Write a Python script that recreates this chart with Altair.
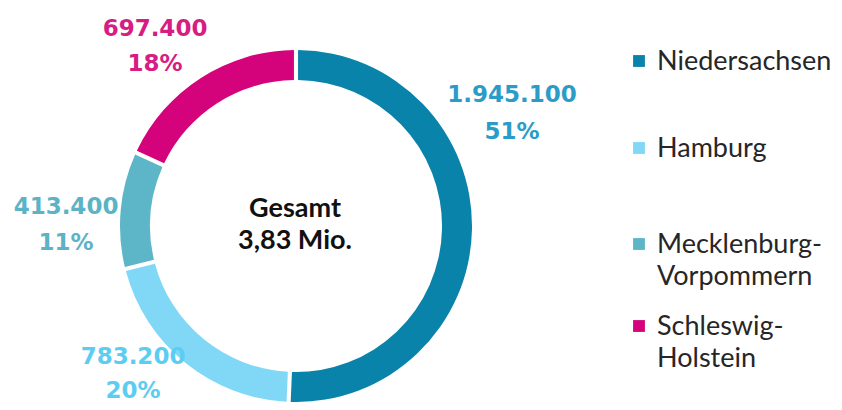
import altair as alt
import pandas as pd

# ---- data ----
names = ["Niedersachsen", "Hamburg", "Mecklenburg-Vorpommern", "Schleswig-Holstein"]
legend_labels = ["Niedersachsen", "Hamburg", "Mecklenburg-\nVorpommern", "Schleswig-\nHolstein"]
values = [1945100, 783200, 413400, 697400]
percents = [51, 20, 11, 18]
center_text = "Gesamt\n3,83 Mio."

# ---- styles / layout ----
slice_colors = ["#0a83ab", "#80d8f6", "#5db5c8", "#d5037b"]
label_colors = ["#2b9cc7", "#5ccdf2", "#5cb3c6", "#d71c83"]
label_pos = [(504, 87), (125, 349), (58, 199), (147, 21)]
label_lh = [37, 34, 36, 35]
legend_rows = [53, 140, 236, 318]

def de_fmt(v):
    return f"{v:,}".replace(",", ".")

df = pd.DataFrame({
    "name": names,
    "legend": legend_labels,
    "value": values,
    "idx": list(range(len(names))),
    "label": [f"{de_fmt(v)}\n{p}%" for v, p in zip(values, percents)],
})

W, H = 826, 394
CX, CY = 288, 218

base = alt.Chart(df)
color_scale = alt.Scale(domain=names, range=slice_colors)

arcs = base.mark_arc(outerRadius=176, innerRadius=146, padAngle=0.018).encode(
    theta=alt.Theta("value:Q", stack=True),
    order=alt.Order("idx:Q", sort="ascending"),
    color=alt.Color("name:N", scale=color_scale, legend=None),
    x=alt.value(CX),
    y=alt.value(CY),
)

center = alt.Chart(pd.DataFrame({"t": [center_text]})).mark_text(
    font="Lato", fontWeight="bold", fontSize=27, lineBreak="\n", lineHeight=32,
    align="center", baseline="middle", color="#111111",
).encode(text="t:N", x=alt.value(CX - 1), y=alt.value(201))

layers = [arcs, center]
for i, n in enumerate(names):
    lx, ly = label_pos[i]
    sub = base.transform_filter(alt.datum.name == n)
    layers.append(
        sub.mark_text(
            font="DejaVu Sans", fontWeight="bold", fontSize=23, lineBreak="\n",
            lineHeight=label_lh[i], align="center", baseline="middle", color=label_colors[i],
        ).encode(text="label:N", x=alt.value(lx), y=alt.value(ly))
    )
    layers.append(
        sub.mark_square(size=140, opacity=1).encode(
            x=alt.value(631), y=alt.value(legend_rows[i]),
            color=alt.Color("name:N", scale=color_scale, legend=None),
        )
    )
    layers.append(
        sub.mark_text(
            font="Lato", fontSize=27, lineBreak="\n", lineHeight=32, align="left",
            baseline="middle", dy=1, color="#262626",
        ).encode(text="legend:N", x=alt.value(649), y=alt.value(legend_rows[i]))
    )

chart = alt.layer(*layers).properties(
    width=W, height=H, padding=0, autosize=alt.AutoSizeParams(type="none"),
).configure_view(stroke=None)

chart.save("out.html", embed_options={"renderer": "svg", "actions": False})
